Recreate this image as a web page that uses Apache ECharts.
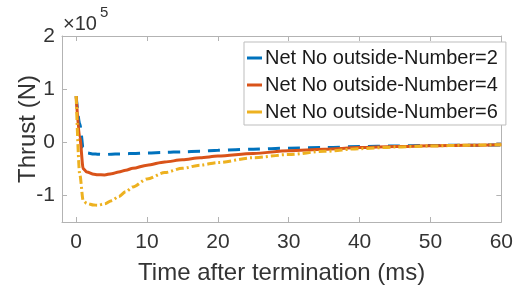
<!DOCTYPE html>
<html>
<head>
<meta charset="utf-8">
<script src="https://cdn.jsdelivr.net/npm/echarts@6/dist/echarts.min.js"></script>
<style>html,body{margin:0;padding:0;background:#fff;}#c{width:516px;height:291px;}</style>
</head>
<body>
<div id="c"></div>
<script>
// time after termination (ms)
const timeMs = [0, 0.5, 1, 1.5, 2.5, 3, 4, 5, 6, 7, 8, 10, 12.5, 15, 17.5, 20, 25, 30, 35, 40, 45, 50, 55, 60];
// thrust (N)
const thrustN2 = [87000, 35000, -10000, -20000, -22000, -22500, -23000, -22500, -22000, -21500, -21000, -20000, -19000, -18000, -17000, -15000, -13000, -11000, -10000, -8000, -7000, -6000, -5500, -5000];
const thrustN4 = [87000, 10000, -50000, -56000, -60000, -61000, -61500, -59000, -56000, -52500, -49000, -43000, -37000, -33000, -29000, -26000, -21000, -16000, -13000, -10000, -8000, -6500, -5500, -4500];
const thrustN6 = [87000, -60000, -110000, -115000, -118000, -118500, -116000, -110000, -102000, -93000, -84000, -69000, -57000, -49000, -43000, -38000, -29000, -23000, -17000, -12000, -9000, -7000, -5500, -4500];
const seriesNames = ['Net No outside-Number=2', 'Net No outside-Number=4', 'Net No outside-Number=6'];
const xTicks = [0, 10, 20, 30, 40, 50, 60];
const yTicks = [-100000, 0, 100000, 200000];

const pairs = arr => timeMs.map((t, i) => [t, arr[i]]);
const FONT = 'Liberation Sans, Arial, sans-serif';
const AX = '#b3b3b3';
const TXT = '#333333';

const chart = echarts.init(document.getElementById('c'), null, {renderer: 'canvas'});
const baseX = {
  type: 'value', min: -2, max: 60,
  axisLine: {show: true, onZero: false, lineStyle: {color: AX, width: 1}},
  axisTick: {show: true, inside: true, length: 5, customValues: xTicks, lineStyle: {color: AX}},
  splitLine: {show: false}
};
const baseY = {
  type: 'value', min: -150000, max: 200000,
  axisLine: {show: true, onZero: false, lineStyle: {color: AX, width: 1}},
  axisTick: {show: true, inside: true, length: 5, customValues: yTicks, lineStyle: {color: AX}},
  splitLine: {show: false}
};
chart.setOption({
  animation: false,
  backgroundColor: '#fff',
  grid: {left: 62, right: 13, top: 36, bottom: 69, containLabel: false},
  xAxis: [
    Object.assign({}, baseX, {
      position: 'bottom',
      axisLabel: {customValues: xTicks, color: TXT, fontSize: 21, fontFamily: FONT, margin: 10},
      name: 'Time after termination (ms)', nameLocation: 'middle', nameGap: 39, nameMoveOverlap: false,
      nameTextStyle: {color: TXT, fontSize: 24, fontFamily: FONT}
    }),
    Object.assign({}, baseX, {position: 'top', axisLabel: {show: false}})
  ],
  yAxis: [
    Object.assign({}, baseY, {
      position: 'left',
      axisLabel: {customValues: yTicks, color: TXT, fontSize: 21, fontFamily: FONT, margin: 7,
        formatter: v => String(Math.round(v / 100000))},
      name: 'Thrust (N)', nameLocation: 'middle', nameGap: 34, nameRotate: 90, nameMoveOverlap: false,
      nameTextStyle: {color: TXT, fontSize: 24, fontFamily: FONT, verticalAlign: 'middle'}
    }),
    Object.assign({}, baseY, {position: 'right', axisLabel: {show: false}})
  ],
  legend: {
    orient: 'vertical', left: 244, top: 42,
    width: 256,
    padding: [6, 8, 3, 3],
    itemGap: 7, itemWidth: 15, itemHeight: 3,
    icon: 'rect',
    backgroundColor: '#fff', borderColor: '#bdbdbd', borderWidth: 1,
    textStyle: {color: '#1a1a1a', fontSize: 20, fontFamily: FONT, padding: [0, 0, 0, -2]},
    data: seriesNames
  },
  graphic: [
    {type: 'text', left: 63, top: 14, style: {text: '×10', fontSize: 20, fontFamily: FONT, fill: TXT}},
    {type: 'text', left: 100, top: 5, style: {text: '5', fontSize: 15, fontFamily: FONT, fill: TXT}}
  ],
  series: [
    {name: seriesNames[0], type: 'line', data: pairs(thrustN2), showSymbol: false, smooth: 0.3, smoothMonotone: 'x',
      color: '#0072BD', lineStyle: {width: 3, type: [12, 8]}},
    {name: seriesNames[1], type: 'line', data: pairs(thrustN4), showSymbol: false, smooth: 0.3, smoothMonotone: 'x',
      color: '#D95319', lineStyle: {width: 3, type: 'solid'}},
    {name: seriesNames[2], type: 'line', data: pairs(thrustN6), showSymbol: false, smooth: 0.3, smoothMonotone: 'x',
      color: '#EDB120', lineStyle: {width: 3, type: [8, 3, 2, 3]}}
  ]
});
</script>
</body>
</html>
